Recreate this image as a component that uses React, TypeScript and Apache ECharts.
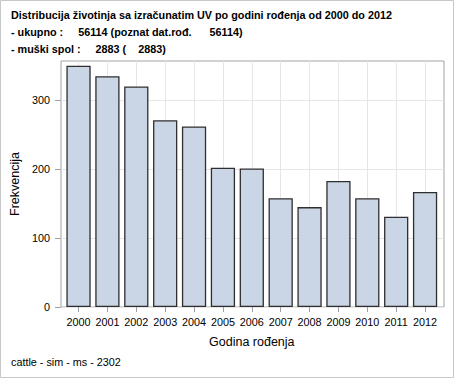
import React, { useEffect, useRef } from "react";
import * as echarts from "echarts";

const years = ["2000", "2001", "2002", "2003", "2004", "2005", "2006", "2007", "2008", "2009", "2010", "2011", "2012"];
const counts = [350, 335, 320, 271, 262, 202, 201, 158, 145, 183, 158, 131, 167];
const yTicks = [0, 100, 200, 300];
const titleLines = [
  "Distribucija životinja sa izračunatim UV po godini rođenja od 2000 do 2012",
  "- ukupno :\u00A0\u00A0\u00A0\u00A0\u00A056114 (poznat dat.rođ.\u00A0\u00A0\u00A0\u00A0\u00A0\u00A056114)",
  "- muški spol :\u00A0\u00A0\u00A0\u00A0\u00A02883 (\u00A0\u00A0\u00A0\u00A02883)",
];
const footnote = "cattle - sim - ms - 2302";
const xTitle = "Godina rođenja";
const yTitle = "Frekvencija";

const FONT = "Liberation Sans, Arial, sans-serif";

export default function App() {
  const ref = useRef<HTMLDivElement>(null);
  useEffect(() => {
    document.body.style.margin = "0";
    const chart = echarts.init(ref.current!, undefined, { renderer: "svg" });
    const yMax = 357;
    const frameColor = "#9ea2a8";
    const gridColor = "#e6e6e6";
    chart.setOption({
      animation: false,
      backgroundColor: "#ffffff",
      textStyle: { fontFamily: FONT },
      grid: [
        { left: 61, top: 61, width: 383, height: 246, show: true, borderColor: frameColor, borderWidth: 1, backgroundColor: "transparent", z: 0 },
        { left: 64.1, top: 61, width: 375.4, height: 246 },
      ],
      xAxis: [
        { type: "value", gridIndex: 0, show: false, min: 0, max: 1 },
        {
          type: "category",
          gridIndex: 1,
          data: years,
          boundaryGap: true,
          axisLine: { show: false },
          axisTick: { show: true, alignWithLabel: true, interval: 0, length: 5, lineStyle: { color: frameColor } },
          axisLabel: { color: "#000", fontSize: 10.8, margin: 9, interval: 0, fontFamily: FONT },
          splitLine: { show: true, alignWithLabel: true, interval: 0, lineStyle: { color: gridColor, width: 1 } },
          name: xTitle,
          nameLocation: "middle",
          nameGap: 28,
          nameTextStyle: { color: "#000", fontSize: 12.5, fontFamily: FONT },
        },
      ],
      yAxis: [
        {
          type: "value",
          gridIndex: 0,
          min: 0,
          max: yMax,
          interval: 100,
          axisLine: { show: false },
          axisTick: { show: true, length: 6, lineStyle: { color: frameColor }, customValues: yTicks },
          axisLabel: { color: "#000", fontSize: 10.8, margin: 11, customValues: yTicks, fontFamily: FONT },
          splitLine: { show: true, lineStyle: { color: gridColor, width: 1 } },
          name: yTitle,
          nameLocation: "middle",
          nameGap: 39,
          nameTextStyle: { color: "#000", fontSize: 12.5, fontFamily: FONT },
        },
        { type: "value", gridIndex: 1, min: 0, max: yMax, show: false, splitLine: { show: false } },
      ],
      series: [
        {
          type: "bar",
          xAxisIndex: 1,
          yAxisIndex: 1,
          data: counts,
          barCategoryGap: "16%",
          itemStyle: { color: "#cad5e5", borderColor: "#2f2f2f", borderWidth: 1.3 },
          z: 3,
        },
      ],
      graphic: [
        { type: "rect", shape: { x: 0.5, y: 0.5, width: 453, height: 377 }, style: { fill: "none", stroke: "#c8c8c8", lineWidth: 1 }, z: 10 },
        ...titleLines.map((t, i) => ({
          type: "text",
          left: 11,
          top: 9 + i * 17,
          style: { text: t, fontFamily: FONT, fontSize: 10.8, fontWeight: "bold", fill: "#000" },
        })),
        {
          type: "text",
          left: 11,
          top: 356,
          style: { text: footnote, fontFamily: FONT, fontSize: 10.8, fill: "#000" },
        },
      ],
    });
    return () => chart.dispose();
  }, []);
  return <div ref={ref} style={{ width: 454, height: 378 }} />;
}
